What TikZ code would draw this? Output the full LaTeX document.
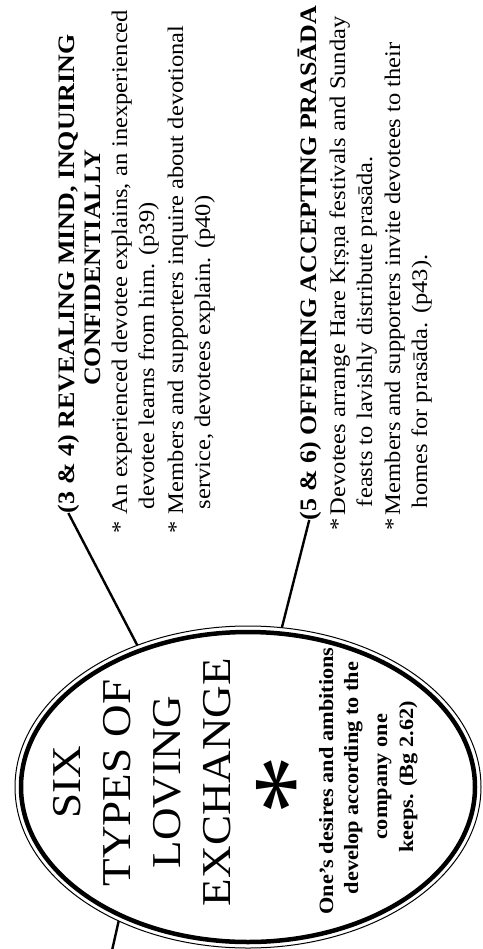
\documentclass[tikz,border=0pt]{standalone}
\usepackage{fontspec}
\setmainfont{Liberation Serif}
\usetikzlibrary{shapes.geometric}
\begin{document}
\begin{tikzpicture}[x=1pt,y=-1pt,
  rt/.style={rotate=90, xscale=1.1, inner sep=0pt, outer sep=0pt},
  hd/.style={rt, font=\fontsize{23.6}{26}\selectfont\bfseries},
  bt/.style={rt, font=\fontsize{22.3}{26}\selectfont},
  big/.style={rt, font=\fontsize{41}{50}\selectfont},
  sm/.style={rt, font=\fontsize{20.3}{24}\selectfont\bfseries},
  conn/.style={line width=2.4pt},
  ellouter/.style={ellipse, draw, line width=1pt, minimum width=466pt, minimum height=322pt, inner sep=0pt, outer sep=0pt}]
\useasboundingbox (0,0) rectangle (482,949);

% central ellipse
\node[ellouter] (ell) at (248,787) {};
\draw[line width=4.5pt] (ell.center) ellipse [x radius=227, y radius=155];

\node[big, anchor=base] (t1) at (80,782) {SIX};
\node[big, anchor=base] (t2) at (130,783) {TYPES OF};
\node[big, anchor=base] (t3) at (180,782) {LOVING};
\node[big, anchor=base] (t4) at (230,782) {EXCHANGE};
\node[rt, font=\fontsize{110}{110}\selectfont, anchor=base] (ast) at (328,785) {*};
\node[sm, anchor=base] (q1) at (333,781) {One’s desires and ambitions};
\node[sm, anchor=base] (q2) at (358,778) {develop according to the};
\node[sm, anchor=base] (q3) at (387,777) {company one};
\node[sm, anchor=base] (q4) at (413,777) {keeps. (Bg 2.62)};

% block 1
\node[hd, anchor=base west] (h1a) at (74,513) {(3 \& 4) REVEALING MIND, INQUIRING};
\node[hd, anchor=base] (h1b) at (100,268) {CONFIDENTIALLY};
\node[bt, anchor=base west] (s1) at (127,533) {*};
\node[bt, anchor=base west] (b1a) at (127,514) {An experienced devotee explains, an inexperienced};
\node[bt, anchor=base west] (b1b) at (154,509) {devotee learns from him. (p39)};
\node[bt, anchor=base west] (s2) at (183,533) {*};
\node[bt, anchor=base west] (b1c) at (183,514) {Members and supporters inquire about devotional};
\node[bt, anchor=base west] (b1d) at (210,509) {service, devotees explain. (p40)};

% block 2
\node[hd, anchor=base west] (h2) at (316,520) {(5 \& 6) OFFERING ACCEPTING PRASĀDA};
\node[bt, anchor=base west] (s3) at (345,530) {*};
\node[bt, anchor=base west] (b2a) at (345,515) {Devotees arrange Hare Kṛṣṇa festivals and Sunday};
\node[bt, anchor=base west] (b2b) at (372,507) {feasts to lavishly distribute prasāda.};
\node[bt, anchor=base west] (s4) at (400,530) {*};
\node[bt, anchor=base west] (b2c) at (400,515) {Members and supporters invite devotees to their};
\node[bt, anchor=base west] (b2d) at (427,508) {homes for prasāda. (p43).};

% connectors
\coordinate (off) at (111,955);
\draw[conn] (ell.128.6) -- (h1a.west);
\draw[conn] (ell.78.7) -- (h2.west);
\draw[conn] (ell.226) -- (off);
\end{tikzpicture}
\end{document}
